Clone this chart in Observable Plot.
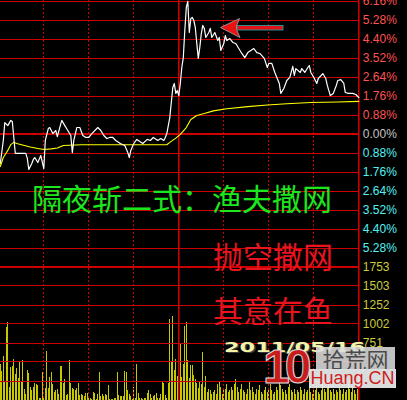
<!DOCTYPE html>
<html><head><meta charset="utf-8">
<script src="https://cdn.jsdelivr.net/npm/d3@7"></script>
<script src="https://cdn.jsdelivr.net/npm/@observablehq/plot@0.6"></script>
<style>
html,body{margin:0;padding:0;background:#000;}
#wrap{position:relative;width:407px;height:400px;background:#000;overflow:hidden;}
#wrap svg.layer{position:absolute;left:0;top:0;overflow:hidden;background:transparent;}
.ov{position:absolute;white-space:nowrap;margin:0;}
.cn{font-family:"Noto Sans CJK SC";font-size:30px;line-height:30px;}
</style></head><body>
<div id="wrap"></div>
<script>
// ---- data (intraday minute index 0..240, percent change vs previous close) ----
const priceMinute = [1,3,4,6,8,9,10,11,14,18,19,20,22,23,24,26,28,30,31,33,34,36,38,39,41,42,44,46,48,49,50,52,54,56,58,60,62,66,68,70,72,74,76,78,81,84,86,87,88,90,92,94,96,99,101,103,106,108,110,111,112,114,115,116,117,118,119,120,121,122,123,124,125,126,127,128,129,130,131,132,133,134,135,136,137,138,140,141,142,144,146,147,148,150,151,152,154,156,158,160,162,164,166,168,170,172,174,177,179,180,182,184,187,188,190,192,194,196,197,198,201,202,204,206,207,208,210,212,213,216,218,219,221,223,225,226,228,230,231,233,236,238,240];
const pricePct = [-1.37,-0.30,0.53,0.39,0.63,0.58,-0.16,-0.90,-0.90,-0.90,-1.13,-1.64,-1.37,-1.18,-1.09,-1.32,-1.00,-1.60,-0.30,0.25,0.30,0.02,0.16,-0.12,0.39,0.63,0.39,0.16,-0.07,-0.86,-0.30,0.30,0.30,-0.07,-0.16,-0.16,0.02,0.30,0.16,-0.07,-0.21,-0.16,-0.16,-0.30,-0.44,-0.53,-0.86,-1.09,-0.76,-0.44,-0.25,-0.35,-0.44,-0.25,-0.30,-0.16,-0.30,-0.21,-0.30,-0.16,0.02,0.76,1.46,2.15,2.34,1.88,2.01,1.78,2.34,3.08,3.54,4.79,5.86,6.14,4.70,5.35,5.40,5.26,4.93,4.19,3.50,4.01,4.65,5.03,4.89,4.47,4.70,4.89,4.47,4.70,4.33,4.47,3.87,4.19,4.56,4.33,4.42,4.24,4.19,3.96,3.73,3.54,3.77,3.87,3.96,3.77,3.73,3.50,3.08,3.27,3.27,2.85,2.34,1.88,2.11,2.48,2.62,3.13,2.71,3.03,2.85,3.03,2.85,3.08,3.17,2.85,2.62,2.34,2.57,2.80,2.57,2.25,1.78,1.88,2.25,2.48,2.52,2.34,1.92,1.88,1.88,1.83,1.69];
const avgMinute = [1,3,6,8,10,12,17,21,26,30,35,39,43,55,112,114,118,121,125,128,132,137,143,152,166,179,192,208,226,240];
const avgPct = [-1.51,-1.09,-0.76,-0.49,-0.39,-0.44,-0.53,-0.60,-0.67,-0.72,-0.69,-0.65,-0.53,-0.50,-0.50,-0.39,-0.19,-0.02,0.30,0.67,0.86,0.95,1.07,1.17,1.27,1.34,1.40,1.46,1.48,1.51];
// volume, minutes 1..133
const volumeMorning = [470,382,567,237,962,1028,163,426,435,540,
338,409,277,492,250,527,132,66,395,343,
171,119,171,224,198,185,26,26,356,26,
145,633,145,303,369,198,105,119,132,66,
448,435,224,264,53,66,527,211,158,132,
119,158,211,53,66,53,40,92,92,40,
26,13,105,92,13,66,356,40,79,40,
79,53,185,13,13,13,26,26,356,53,
40,40,40,382,369,119,79,40,13,171,
26,474,92,26,26,13,26,26,92,119,
79,26,40,53,92,26,26,66,237,211,
53,26,224,1067,488,1107,395,540,316,672,
725,290,474,975,1028,527,277,461,461,329,
264,224,158];
// volume, minutes 134..240
const volumeAfternoon = [250,207,620,163,316,97,141,119,75,97,
119,75,207,250,163,75,119,141,207,97,
119,163,119,207,272,163,97,141,207,119,
97,75,141,250,119,163,97,75,141,119,
185,97,75,119,163,97,141,207,119,75,
97,163,119,250,185,141,97,119,75,163,
207,119,97,141,75,119,97,163,119,75,
141,97,119,185,97,75,141,119,163,97,
75,119,207,141,97,163,250,119,97,141,
75,119,97,163,119,75,141,97,119,207,
141,97,163,119,75,141,250];
const priceTicks = [6.16,5.28,4.40,3.52,2.64,1.76,0.88,0,-0.88,-1.76,-2.64,-3.52,-4.40,-5.28,-6.16];
const volTicks = [0,250,501,751,1002,1252,1503,1753];
// labels visible in the reference (lower ones are hidden by the watermark)
const volLabelValues = [751,1002,1252,1503,1753];
const volLabelTexts = ["751","1002","1252","1503","1753"];
const dottedMinutes = [30,60,90,150,180,210];
const solidMinutes = [120,240];

// ---- styling ----
const GRID = "#cc0000";
const X_RANGE = [-1.7, 358.3];
const LABEL_FONT = "Liberation Sans, Arial, sans-serif";

const priceData = priceMinute.map((m,i)=>({m, p: pricePct[i]}));
const avgData = avgMinute.map((m,i)=>({m, p: avgPct[i]}));
const volData = [
  ...volumeMorning.map((v,i)=>({m: i+1, v})),
  ...volumeAfternoon.map((v,i)=>({m: i+134, v}))
];
const priceLabelData = priceTicks.filter(t => t > -6).map(t => ({
  t,
  label: Math.abs(t).toFixed(2) + "%",
  color: t > 0 ? "#ff5252" : (t === 0 ? "#c4c4c4" : "#52f2f2")
}));
const volLabelData = volLabelValues.map((v,i) => ({v, label: volLabelTexts[i]}));

const volPlot = Plot.plot({
  width: 407, height: 400,
  marginLeft: 0, marginRight: 0, marginTop: 0, marginBottom: 0,
  style: {background: "transparent", overflow: "hidden"},
  x: {domain: [0,240], range: X_RANGE, axis: null},
  y: {domain: [0,1753], range: [399.5, 266.5], axis: null},
  marks: [
    Plot.ruleX(volData, {x: "m", y1: () => 0, y2: "v", stroke: "#c8c800", strokeWidth: 1, shapeRendering: "crispEdges"}),
    Plot.ruleY(volTicks, {y: d => d, x1: () => 0, x2: () => 240, stroke: GRID, strokeWidth: 1, shapeRendering: "crispEdges"}),
    Plot.text(volLabelData, {x: () => 240, y: "v", text: "label", dx: 4, textAnchor: "start", lineAnchor: "middle", fill: "#cccc3a", fontSize: 12, fontFamily: LABEL_FONT})
  ]
});

const pricePlot = Plot.plot({
  width: 407, height: 400,
  marginLeft: 0, marginRight: 0, marginTop: 0, marginBottom: 0,
  style: {background: "transparent", overflow: "hidden"},
  x: {domain: [0,240], range: X_RANGE, axis: null},
  y: {domain: [-6.16, 6.16], range: [266.5, 0.5], axis: null},
  color: {type: "identity"},
  marks: [
    Plot.ruleY(priceTicks.filter(t => t !== 0 && t !== -6.16), {y: d => d, x1: () => 0, x2: () => 240, stroke: GRID, strokeWidth: 1, shapeRendering: "crispEdges"}),
    Plot.ruleY([0, -6.16], {y: d => d, x1: () => 0, x2: () => 240, stroke: GRID, strokeWidth: 2}),
    Plot.ruleX(dottedMinutes, {x: d => d, stroke: GRID, strokeWidth: 1, strokeDasharray: "2,2", shapeRendering: "crispEdges"}),
    Plot.ruleX(solidMinutes, {x: d => d, stroke: GRID, strokeWidth: 1.6}),
    Plot.line(avgData, {x: "m", y: "p", stroke: "#ffff00", strokeWidth: 1.1}),
    Plot.line(priceData, {x: "m", y: "p", stroke: "#ffffff", strokeWidth: 1.2}),
    Plot.text(priceLabelData, {x: () => 240, y: "t", text: "label", dx: 4, textAnchor: "start", lineAnchor: "middle", fill: d => d.color, fontSize: 12, fontFamily: LABEL_FONT})
  ]
});

const wrap = document.getElementById("wrap");
volPlot.classList.add("layer");
pricePlot.classList.add("layer");
wrap.appendChild(volPlot);
wrap.appendChild(pricePlot);

wrap.insertAdjacentHTML("beforeend", `
<svg class="ov" width="407" height="60" style="left:0;top:0;position:absolute">
  <rect x="237" y="25.5" width="46" height="4.5" fill="#e41018" stroke="#2f8c8c" stroke-width="1"/>
  <polygon points="220.5,27.5 239.5,18.5 236.5,26 236.5,29.5 240,37.5" fill="#ec1212" stroke="#8e8e8e" stroke-width="1"/>
</svg>
<div class="ov cn" style="left:32px;top:182px;color:#1ee61e">隔夜斩二式：渔夫撒网</div>
<div class="ov cn" style="left:213px;top:240px;color:#e8141e">抛空撒网</div>
<div class="ov cn" style="left:213px;top:294px;color:#e8141e">其意在鱼</div>
<div class="ov" style="left:224px;top:340px;font:bold 14px/14px 'DejaVu Sans';color:#f4f4a8;transform:scaleX(1.6);transform-origin:0 0;text-shadow:1px 1px 0 #3a3a3a">2011/05/16</div>
<div class="ov" style="left:316px;top:347px;width:79px;height:22px;background:rgba(220,220,220,0.88);font:22px/22px 'Noto Sans CJK SC';color:#4a4a4a;text-align:center">拾荒网</div>
<div class="ov" style="left:309px;top:369px;width:87px;height:19px;background:rgba(235,240,240,0.92);font:18px/19px 'Liberation Sans';color:#d01c1c;text-align:center">Huang.CN</div>
<div class="ov" style="left:263px;top:343px;font:bold 48px/48px 'Liberation Sans';color:#c81c1c;letter-spacing:-5px;-webkit-text-stroke:1px #e0e0e0">10</div>
`);
</script>
</body></html>
